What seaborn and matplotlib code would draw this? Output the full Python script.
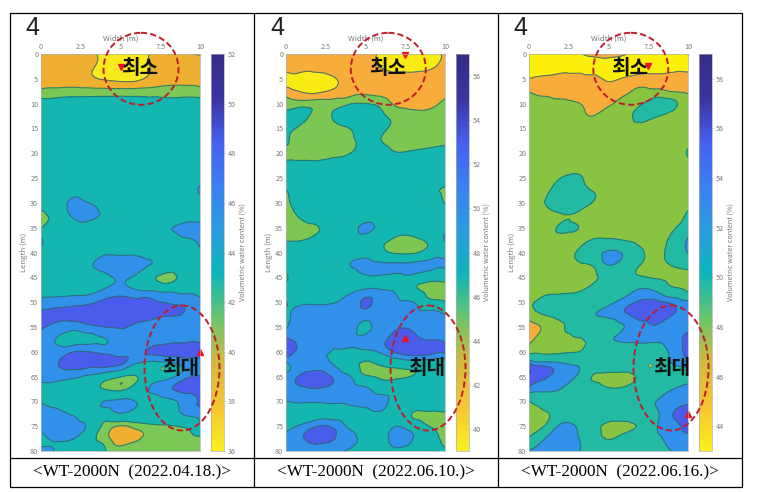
#Importing Modules

import numpy as np
import matplotlib
matplotlib.use("Agg")
import matplotlib.pyplot as plt
import matplotlib.tri as mtri
import seaborn as sns
from matplotlib.patches import Ellipse
from matplotlib.cm import ScalarMappable
from matplotlib.colors import Normalize

###

#Chart data

width_m = [0, 1, 2, 3, 4, 5, 6, 7, 8, 9, 10]
length_m = [0, 2.5, 5, 7.5, 10, 12.5, 15, 17.5, 20, 22.5, 25, 27.5, 30, 32.5, 35, 37.5, 40,
            42.5, 45, 47.5, 50, 52.5, 55, 57.5, 60, 62.5, 65, 67.5, 70, 72.5, 75, 77.5, 80]
width_ticks = [0, 2.5, 5, 7.5, 10]
width_labels = ["0", "2.5", "5", "7.5", "10"]
length_ticks = [0, 5, 10, 15, 20, 25, 30, 35, 40, 45, 50, 55, 60, 65, 70, 75, 80]

water_0418 = [
    [38.5, 38.5, 38.5, 38.3, 37.6, 37.0, 37.0, 38.2, 38.5, 38.1, 37.9],
    [39.0, 39.0, 39.0, 38.4, 37.4, 36.8, 36.8, 38.2, 39.0, 39.0, 38.8],
    [39.2, 39.2, 39.0, 38.4, 37.8, 37.4, 37.5, 38.6, 39.3, 39.4, 39.2],
    [40.3, 40.6, 40.8, 40.8, 40.8, 40.8, 40.8, 40.8, 40.9, 40.9, 40.7],
    [43.2, 43.2, 43.2, 43.2, 43.2, 43.2, 43.2, 43.2, 43.0, 43.2, 43.2],
    [44.5, 44.5, 44.5, 44.5, 44.5, 44.5, 44.5, 44.5, 44.5, 44.5, 44.5],
    [44.5, 44.5, 44.5, 44.5, 44.5, 44.5, 44.5, 44.5, 44.5, 44.5, 44.5],
    [44.5, 44.5, 44.5, 44.5, 44.5, 44.5, 44.5, 44.5, 44.5, 44.5, 44.5],
    [44.5, 44.5, 44.5, 44.5, 44.5, 44.5, 44.5, 44.5, 44.5, 44.5, 44.5],
    [44.5, 44.5, 44.5, 44.5, 44.5, 44.5, 44.5, 44.5, 44.5, 44.5, 44.5],
    [44.5, 44.5, 44.5, 44.5, 44.5, 44.5, 44.5, 44.5, 44.5, 44.5, 44.8],
    [44.5, 44.5, 45.0, 44.6, 44.5, 44.5, 44.5, 44.5, 44.5, 44.8, 46.4],
    [44.0, 44.5, 46.6, 46.0, 44.8, 44.5, 44.5, 44.5, 44.5, 44.5, 44.8],
    [40.7, 43.5, 46.3, 46.8, 45.6, 44.5, 44.5, 44.5, 44.6, 45.0, 45.2],
    [41.8, 44.0, 45.0, 44.8, 44.5, 44.5, 44.5, 44.8, 45.8, 46.4, 46.6],
    [46.5, 44.5, 44.5, 44.5, 44.5, 44.5, 44.5, 44.5, 44.7, 45.5, 46.8],
    [44.5, 44.5, 44.5, 44.8, 45.6, 45.5, 45.5, 44.8, 44.5, 44.5, 45.8],
    [44.5, 44.5, 44.6, 45.7, 46.6, 47.0, 46.8, 45.8, 45.0, 44.5, 44.5],
    [44.5, 44.5, 44.5, 44.8, 45.5, 46.3, 45.5, 42.6, 41.0, 43.0, 44.5],
    [45.0, 45.0, 45.0, 45.0, 46.2, 46.8, 46.0, 45.5, 45.0, 45.0, 45.0],
    [46.8, 47.0, 47.3, 47.6, 48.4, 48.8, 48.5, 48.2, 47.9, 47.6, 46.4],
    [48.6, 48.5, 48.5, 48.7, 49.0, 49.0, 48.8, 48.4, 48.1, 47.9, 47.0],
    [48.3, 47.3, 46.9, 47.5, 48.0, 48.2, 47.6, 47.1, 47.0, 47.0, 47.0],
    [47.0, 45.9, 45.0, 45.4, 45.9, 46.8, 47.0, 46.8, 47.0, 47.2, 47.2],
    [46.6, 46.8, 47.9, 48.0, 47.4, 47.0, 47.4, 48.4, 48.9, 49.0, 49.2],
    [47.0, 47.9, 48.9, 48.8, 48.7, 48.2, 45.8, 45.0, 45.3, 46.5, 47.0],
    [46.9, 46.9, 46.5, 45.6, 44.0, 42.2, 41.9, 44.3, 45.2, 47.2, 48.2],
    [44.8, 44.8, 44.6, 44.2, 41.9, 41.2, 43.5, 46.4, 47.6, 48.8, 49.3],
    [45.8, 45.2, 44.6, 44.5, 46.1, 46.8, 45.9, 45.0, 45.5, 46.6, 48.2],
    [46.8, 46.6, 45.8, 44.8, 44.2, 45.8, 44.8, 44.4, 44.8, 46.2, 46.9],
    [46.6, 47.0, 46.8, 45.5, 41.3, 39.8, 40.8, 41.5, 41.7, 42.4, 45.3],
    [45.5, 46.2, 46.1, 43.2, 41.0, 38.6, 39.7, 41.0, 40.9, 40.8, 41.4],
    [46.6, 45.8, 44.6, 44.0, 42.3, 41.3, 41.2, 41.2, 41.2, 41.2, 41.4],
]

water_0610 = [
    [43.0, 43.0, 43.0, 43.0, 43.0, 43.0, 41.6, 41.0, 41.0, 41.3, 42.3],
    [43.0, 43.0, 43.0, 43.0, 43.0, 43.0, 41.8, 41.0, 41.0, 41.5, 42.8],
    [40.9, 40.9, 40.9, 41.8, 43.2, 43.3, 43.2, 43.1, 43.1, 43.1, 43.2],
    [43.1, 41.8, 41.5, 42.4, 43.3, 43.7, 43.5, 43.3, 43.2, 43.2, 43.2],
    [44.8, 45.0, 45.0, 45.0, 45.8, 46.0, 45.2, 43.6, 43.4, 43.5, 44.6],
    [47.0, 47.0, 45.0, 46.2, 48.0, 48.5, 46.6, 45.2, 44.6, 44.7, 45.4],
    [46.5, 45.4, 45.0, 45.3, 46.0, 48.5, 46.8, 45.2, 45.0, 45.0, 45.2],
    [46.4, 45.2, 45.0, 45.0, 45.2, 47.0, 46.0, 45.0, 45.0, 45.0, 45.4],
    [45.2, 45.2, 45.2, 45.4, 45.9, 48.0, 47.5, 46.2, 46.6, 47.0, 47.0],
    [47.0, 47.0, 46.9, 47.5, 48.0, 48.5, 48.5, 48.5, 48.5, 48.5, 48.5],
    [48.0, 48.5, 48.5, 48.5, 48.5, 48.5, 48.5, 48.5, 48.5, 48.5, 48.5],
    [45.8, 48.0, 48.5, 48.5, 48.5, 48.5, 48.5, 48.5, 48.5, 46.5, 45.5],
    [45.6, 47.2, 48.5, 48.5, 48.5, 48.5, 48.5, 48.5, 48.5, 48.0, 45.8],
    [45.0, 46.5, 48.3, 48.5, 48.5, 48.5, 48.5, 48.5, 48.5, 48.5, 48.5],
    [45.0, 45.0, 45.8, 48.6, 49.0, 50.6, 49.0, 47.0, 47.0, 48.5, 49.0],
    [45.8, 45.9, 47.5, 48.5, 48.5, 48.5, 47.0, 45.4, 45.2, 46.8, 50.3],
    [48.5, 48.5, 48.5, 48.5, 48.5, 48.8, 47.0, 45.5, 45.5, 47.5, 48.5],
    [48.5, 48.5, 48.7, 49.2, 50.0, 50.7, 50.6, 50.6, 50.8, 50.8, 50.8],
    [45.2, 48.3, 48.5, 48.5, 48.7, 49.6, 49.5, 49.2, 48.8, 47.5, 47.0],
    [48.5, 48.5, 48.5, 48.5, 49.4, 50.2, 50.05, 49.5, 46.6, 45.2, 45.0],
    [50.1, 49.6, 49.7, 49.9, 50.6, 52.4, 50.8, 50.3, 50.0, 47.0, 46.4],
    [49.5, 50.8, 50.8, 50.8, 50.8, 51.0, 51.0, 50.9, 50.9, 51.2, 50.0],
    [49.7, 50.8, 50.8, 50.7, 50.6, 49.6, 50.7, 51.7, 51.8, 51.0, 50.8],
    [52.3, 51.4, 50.9, 50.1, 50.4, 50.7, 51.5, 53.0, 52.8, 51.8, 51.2],
    [53.5, 51.6, 50.8, 49.9, 49.2, 49.3, 50.5, 52.4, 53.2, 53.0, 52.6],
    [49.5, 50.7, 50.8, 49.9, 47.4, 45.3, 46.5, 47.5, 48.0, 48.2, 48.5],
    [50.5, 52.4, 52.9, 51.8, 50.2, 46.5, 45.5, 45.5, 46.2, 48.0, 48.5],
    [50.7, 51.6, 51.9, 51.5, 51.0, 50.5, 48.5, 48.5, 48.5, 48.5, 48.5],
    [50.0, 50.2, 50.2, 50.4, 50.5, 50.7, 50.8, 48.5, 48.5, 48.5, 48.5],
    [48.5, 48.6, 49.0, 49.0, 49.3, 49.3, 49.5, 48.3, 45.8, 45.5, 45.7],
    [49.2, 50.5, 52.0, 51.6, 49.6, 48.5, 48.5, 50.0, 48.3, 46.0, 45.0],
    [50.4, 51.8, 53.0, 52.1, 51.0, 49.0, 49.0, 51.0, 50.0, 47.5, 45.0],
    [50.3, 50.5, 50.2, 50.5, 49.4, 48.6, 48.8, 49.5, 48.5, 48.0, 46.5],
]

water_0616 = [
    [43.0, 43.0, 43.0, 43.5, 44.8, 45.0, 44.2, 43.2, 43.0, 43.0, 43.0],
    [43.0, 43.0, 43.0, 43.0, 43.0, 43.0, 43.0, 43.0, 43.0, 43.0, 43.0],
    [44.0, 44.4, 44.7, 44.7, 44.5, 43.7, 44.2, 44.8, 44.8, 44.8, 44.7],
    [45.9, 45.5, 45.2, 45.0, 44.8, 44.7, 45.5, 46.3, 46.4, 45.9, 45.5],
    [47.0, 46.8, 46.6, 46.2, 45.0, 45.6, 46.7, 47.6, 49.5, 48.6, 46.8],
    [47.0, 47.0, 47.0, 47.0, 46.0, 47.0, 47.0, 49.0, 48.3, 47.2, 47.0],
    [47.0, 47.0, 47.0, 47.0, 47.0, 47.0, 47.0, 47.0, 47.0, 47.0, 47.0],
    [47.0, 47.0, 47.0, 47.0, 47.0, 47.0, 47.0, 47.0, 47.0, 47.0, 47.3],
    [47.0, 47.0, 47.0, 47.0, 47.0, 47.0, 47.0, 47.0, 47.0, 47.0, 48.2],
    [47.0, 47.0, 47.0, 47.0, 47.0, 47.0, 47.0, 47.0, 47.0, 47.0, 47.3],
    [47.0, 47.0, 48.0, 48.5, 47.0, 47.0, 47.0, 47.0, 47.0, 47.0, 47.0],
    [47.0, 47.4, 49.4, 49.5, 47.9, 47.0, 47.0, 47.0, 47.0, 47.0, 47.0],
    [47.0, 48.0, 49.8, 49.8, 47.9, 47.0, 47.0, 47.0, 47.0, 47.0, 47.0],
    [47.0, 47.0, 47.8, 47.7, 47.0, 47.0, 47.0, 47.0, 47.0, 47.0, 48.5],
    [47.0, 47.0, 48.3, 48.1, 47.3, 47.0, 47.0, 47.0, 47.0, 47.6, 49.0],
    [47.0, 47.0, 47.0, 47.2, 48.2, 48.5, 47.9, 47.2, 47.2, 48.6, 52.6],
    [47.0, 47.0, 47.0, 48.1, 50.8, 52.6, 51.4, 48.5, 47.3, 49.2, 52.1],
    [47.0, 47.0, 47.0, 47.5, 48.3, 52.1, 50.0, 48.0, 47.0, 48.2, 49.0],
    [47.0, 47.0, 47.0, 47.0, 47.4, 48.5, 48.8, 48.3, 47.6, 47.0, 47.0],
    [47.0, 47.4, 47.5, 47.6, 48.6, 49.5, 50.5, 52.3, 51.5, 49.0, 47.2],
    [47.8, 48.7, 49.2, 49.4, 49.8, 51.2, 53.0, 54.2, 54.4, 53.6, 52.4],
    [47.1, 48.1, 48.8, 49.0, 51.6, 52.6, 53.7, 54.9, 55.0, 54.1, 53.0],
    [45.0, 46.4, 47.8, 48.5, 49.5, 50.5, 52.0, 53.3, 53.9, 53.2, 53.3],
    [45.4, 46.8, 47.2, 47.8, 49.0, 51.5, 52.5, 52.8, 52.6, 53.2, 54.6],
    [47.0, 47.2, 47.4, 47.9, 49.0, 49.5, 50.0, 50.5, 50.8, 52.5, 54.9],
    [54.6, 53.2, 52.5, 51.6, 49.5, 49.3, 49.5, 50.0, 50.5, 51.9, 52.8],
    [55.5, 54.4, 52.8, 51.8, 47.9, 47.3, 47.2, 48.5, 50.0, 50.5, 51.2],
    [53.6, 52.6, 52.0, 50.0, 49.6, 48.3, 48.5, 49.5, 50.5, 51.9, 52.5],
    [48.0, 49.5, 50.0, 50.0, 50.0, 50.0, 50.0, 50.5, 52.0, 53.0, 53.5],
    [47.0, 47.7, 49.5, 49.7, 49.7, 49.6, 49.7, 50.3, 51.6, 53.9, 55.0],
    [47.2, 48.2, 52.6, 51.8, 49.0, 47.3, 47.3, 48.5, 51.8, 53.4, 54.7],
    [48.4, 52.0, 53.0, 52.3, 50.0, 47.8, 49.3, 50.0, 51.5, 53.0, 53.4],
    [52.3, 53.0, 53.3, 52.5, 50.0, 50.0, 50.0, 50.3, 50.5, 52.1, 52.9],
]

levels_0418 = [20, 38, 40, 42, 46, 48, 50, 70]
levels_0610 = [20, 42, 44, 46, 50, 52, 54, 70]
levels_0616 = [20, 44, 46, 48, 52, 54, 56, 70]
colors_0418 = ["#F7EA1E", "#EFB032", "#7CC856", "#14B6B0", "#3090EA", "#4A5CEC", "#352A87"]
colors_0610 = ["#F9EC14", "#F8AC3A", "#7EC652", "#14B6B0", "#3090EA", "#4A5CEC", "#352A87"]
colors_0616 = ["#FBF00C", "#F8AC3A", "#88C442", "#22BAA2", "#3090EA", "#4A5CEC", "#352A87"]
bar_colors = ["#FAF01E", "#F6C533", "#D2BA3C", "#6CC46C", "#0CB6BA", "#2A9CE0", "#3B80F2",
              "#4560F0", "#3A35A0", "#352A87"]
bar_stops = [0, 0.12, 0.25, 0.37, 0.5, 0.625, 0.75, 0.875, 0.97, 1]

captions = ["<WT-2000N  (2022.04.18.)>", "<WT-2000N  (2022.06.10.)>", "<WT-2000N  (2022.06.16.)>"]

###

#Figure and helpers

sns.set_theme(style="white")
plt.rcParams['font.family'] = ['Noto Sans CJK KR', 'DejaVu Sans']
FIG_W, FIG_H = 760, 492
fig = plt.figure(figsize=(FIG_W / 100, FIG_H / 100), dpi=100, facecolor="white")
bar_cmap = sns.blend_palette(bar_colors, n_colors=256, as_cmap=True)
GRAY = "#7A7A7A"

#regular mesh for matplotlib's own contour refiner
xx, yy = np.meshgrid(width_m, length_m)
nx = len(width_m)
cells = []
for r in range(len(length_m) - 1):
    for c in range(nx - 1):
        a = r * nx + c
        cells.append([a, a + 1, a + nx])
        cells.append([a + 1, a + nx + 1, a + nx])
mesh = mtri.Triangulation(xx.ravel(), yy.ravel(), cells)
refiner = mtri.UniformTriRefiner(mesh)


def box(x0, y0, x1, y1):
    return [x0 / FIG_W, 1 - y1 / FIG_H, (x1 - x0) / FIG_W, (y1 - y0) / FIG_H]


def draw_panel(values, levels, colors, x0, bar_x0, vmin, vmax, bar_ticks):
    ax = fig.add_axes(box(x0, 54, x0 + 159, 451))
    fine_mesh, fine_z = refiner.refine_field(np.array(values).ravel(), subdiv=3)
    ax.tricontourf(fine_mesh, fine_z, levels=levels, colors=colors)
    ax.tricontour(fine_mesh, fine_z, levels=levels[1:-1], colors="#2B6B62", linewidths=0.8, alpha=0.8)
    ax.set_xlim(0, 10)
    ax.set_ylim(80, 0)
    ax.xaxis.tick_top()
    ax.xaxis.set_label_position("top")
    ax.set_xticks(width_ticks, width_labels)
    ax.set_yticks(length_ticks)
    ax.set_xlabel("Width (m)", fontsize=5.5, color=GRAY, labelpad=2)
    ax.set_ylabel("Length (m)", fontsize=5.5, color=GRAY, labelpad=1.5)
    ax.tick_params(axis="both", labelsize=5.2, colors=GRAY, length=1.5, width=0.4, pad=2,
                   direction="in")
    for s in ax.spines.values():
        s.set_color("#B0B0B0")
        s.set_linewidth(0.5)

    cax = fig.add_axes(box(bar_x0, 54, bar_x0 + 13, 451))
    cb = fig.colorbar(ScalarMappable(Normalize(vmin, vmax), bar_cmap), cax=cax, ticks=bar_ticks)
    cb.ax.tick_params(labelsize=5.2, colors=GRAY, length=1, width=0.4, pad=2)
    cb.set_label("Volumetric water content (%)", fontsize=5.2, color=GRAY, labelpad=1.5)
    cb.outline.set_edgecolor("#B0B0B0")
    cb.outline.set_linewidth(0.5)
    return ax


ax1 = draw_panel(water_0418, levels_0418, colors_0418, 41, 211, 36, 52, [36, 38, 40, 42, 44, 46, 48, 50, 52])
ax2 = draw_panel(water_0610, levels_0610, colors_0610, 286, 455.5, 39, 57, [40, 42, 44, 46, 48, 50, 52, 54, 56])
ax3 = draw_panel(water_0616, levels_0616, colors_0616, 529, 699, 43, 59, [44, 46, 48, 50, 52, 54, 56, 58])

#minimum and maximum markers
ax1.plot(5, 2.6, "v", color="#F01020", ms=5, clip_on=False)
ax1.plot(10, 60, "^", color="#F01020", ms=5, clip_on=False)
ax2.plot(7.5, 0.3, "v", color="#F01020", ms=5, clip_on=False)
ax2.plot(7.5, 57.3, "^", color="#F01020", ms=5, clip_on=False)
ax3.plot(7.5, 2.5, "v", color="#F01020", ms=5, clip_on=False)
ax3.plot(10, 72.5, "^", color="#F01020", ms=5, clip_on=False)

#small spots beside the max note
ax1.plot(7.6, 63.2, "o", color="#7CC856", ms=2.5, mec="#2B6B62", mew=0.4)
ax3.plot(7.6, 62.7, "o", color="#C8D040", ms=2.5, mec="#2B6B62", mew=0.4)

###

#Overlay in pixel coordinates: table lines, notes, dashed rings

top = fig.add_axes([0, 0, 1, 1], zorder=10)
top.set_xlim(0, FIG_W)
top.set_ylim(FIG_H, 0)
top.axis("off")

for x in [10, 254, 498, 742]:
    top.plot([x, x], [12.7, 487], color="black", lw=0.9)
for y in [12.7, 457.5, 487]:
    top.plot([10, 742], [y, y], color="black", lw=0.9)

ring_top = [141, 388.3, 630.8]
ring_low = [182, 428, 671]
note_top = [140, 388, 630]
note_low = [181, 427, 672]
digit_x = [32, 277, 520]
caption_x = [132, 376, 620]

for i in range(3):
    top.add_patch(Ellipse((ring_top[i], 68.8), 75, 72, fill=False, ec="#C01C2C", ls=(0, (3.2, 1.6)), lw=1.4))
    top.add_patch(Ellipse((ring_low[i], 368), 75, 125, fill=False, ec="#C01C2C", ls=(0, (3.2, 1.6)), lw=1.4))
    top.text(note_top[i], 68, "최소", fontsize=14.5, fontweight="bold", color="#111111", ha="center", va="center")
    top.text(note_low[i], 367, "최대", fontsize=14.5, fontweight="bold", color="#111111", ha="center", va="center")
    top.text(digit_x[i], 35, "4", fontsize=18, color="#222222", family="Liberation Sans", ha="center", va="baseline")
    top.text(caption_x[i], 472, captions[i], fontsize=12.3, color="black", family="Liberation Serif",
             ha="center", va="center")

fig.savefig("out.png", dpi=100)
